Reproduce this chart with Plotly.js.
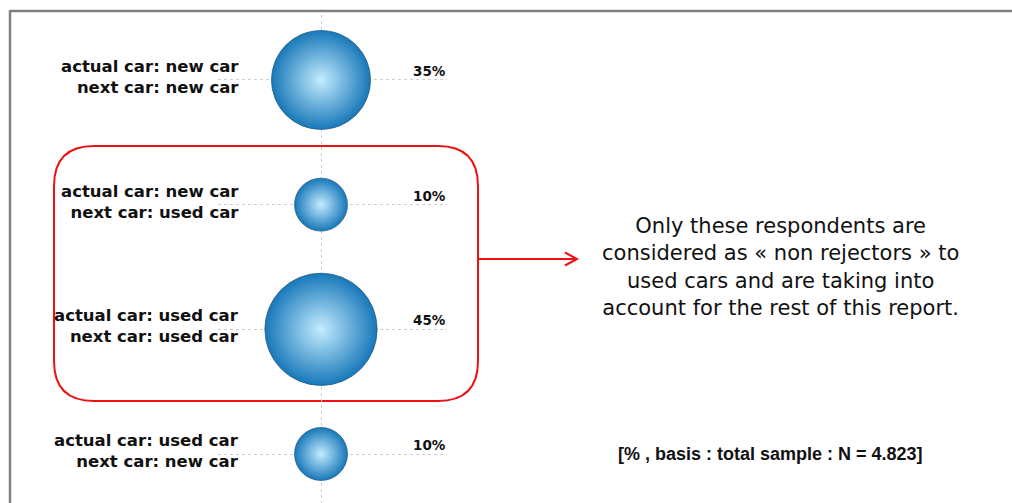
<!DOCTYPE html>
<html>
<head>
<meta charset="utf-8">
<script src="https://cdn.plot.ly/plotly-3.0.1.min.js"></script>
<style>html,body{margin:0;padding:0;background:#fff;}#chart{width:1012px;height:503px;}</style>
</head>
<body>
<div id="chart"></div>
<script>
// ---- data ----
var actualCar = ['new car', 'new car', 'used car', 'used car'];
var nextCar   = ['new car', 'used car', 'used car', 'new car'];
var shares    = [35, 10, 45, 10];           // % of total sample
var noteText  = ['Only these respondents are', 'considered as \u00ab non rejectors \u00bb to', 'used cars and are taking into', 'account for the rest of this report.'];
var basisText = '[% , basis : total sample : N = 4.823]';

// ---- layout helpers ----
var W = 1012, H = 503;
var mL = 218, mR = W - 447, mT = 15, mB = 0;
var pw = W - mL - mR, ph = H - mT - mB;
function px(x) { return (x - mL) / pw; }
function py(y) { return (H - mB - y) / ph; }

var cats = actualCar.map(function (a, i) { return 'actual car: ' + a + '<br>next car: ' + nextCar[i]; });
var pctLabels = shares.map(function (v) { return v + '%'; });

var trace = {
  type: 'scatter', mode: 'markers',
  x: shares.map(function () { return 0; }),
  y: cats,
  marker: {
    size: shares, sizemode: 'area', sizeref: 0.00714,
    color: '#1878b9',
    gradient: { type: 'radial', color: '#c4ecff' },
    line: { color: '#2a5f86', width: 0.8 },
    opacity: 1
  },
  cliponaxis: false,
  hoverinfo: 'skip'
};

var annotations = [];
cats.forEach(function (c, i) {
  annotations.push({
    x: -80, y: c, xref: 'x', yref: 'y', xanchor: 'right', yanchor: 'middle', align: 'right',
    text: '<b>actual car: ' + actualCar[i] + '<br>next car: ' + nextCar[i] + '</b>',
    showarrow: false, yshift: 3,
    font: { family: 'DejaVu Sans', size: 16.5, color: '#111' }
  });
  annotations.push({
    x: 125.5, y: c, xref: 'x', yref: 'y', xanchor: 'right', yanchor: 'middle',
    text: '<b>' + pctLabels[i] + '</b>', showarrow: false, yshift: 9, xshift: 1.5,
    font: { family: 'DejaVu Sans', size: 13.5, color: '#111' }
  });
});
annotations.push({
  x: px(780), y: py(267), xref: 'paper', yref: 'paper', xanchor: 'center', yanchor: 'middle', align: 'center',
  text: noteText.join('<br>'), showarrow: false,
  font: { family: 'DejaVu Sans', size: 21, color: '#111' }
});
annotations.push({
  x: px(770), y: py(454), xref: 'paper', yref: 'paper', xanchor: 'center', yanchor: 'middle',
  text: '<b>' + basisText + '</b>', showarrow: false,
  font: { family: 'Liberation Sans', size: 18, color: '#111' }
});

// red rounded rectangle
var rx0 = 54, rx1 = 478, ry0 = 146, ry1 = 401, r = 40;
var rectPath = 'M' + px(rx0 + r) + ',' + py(ry0) +
  ' L' + px(rx1 - r) + ',' + py(ry0) +
  ' Q' + px(rx1) + ',' + py(ry0) + ' ' + px(rx1) + ',' + py(ry0 + r) +
  ' L' + px(rx1) + ',' + py(ry1 - r) +
  ' Q' + px(rx1) + ',' + py(ry1) + ' ' + px(rx1 - r) + ',' + py(ry1) +
  ' L' + px(rx0 + r) + ',' + py(ry1) +
  ' Q' + px(rx0) + ',' + py(ry1) + ' ' + px(rx0) + ',' + py(ry1 - r) +
  ' L' + px(rx0) + ',' + py(ry0 + r) +
  ' Q' + px(rx0) + ',' + py(ry0) + ' ' + px(rx0 + r) + ',' + py(ry0) + ' Z';
var arrowPath = 'M' + px(478) + ',' + py(259) + ' L' + px(576) + ',' + py(259) +
  ' M' + px(565) + ',' + py(252.5) + ' L' + px(577) + ',' + py(259) + ' L' + px(565) + ',' + py(265.5);

var shapes = [
  { type: 'line', xref: 'paper', yref: 'paper', x0: px(10), x1: px(1012), y0: py(11), y1: py(11), line: { color: '#808080', width: 2.5 } },
  { type: 'line', xref: 'paper', yref: 'paper', x0: px(10), x1: px(10), y0: py(10), y1: py(503), line: { color: '#808080', width: 2.5 } },
  { type: 'path', xref: 'paper', yref: 'paper', path: rectPath, line: { color: '#ee1111', width: 2 }, layer: 'below' },
  { type: 'path', xref: 'paper', yref: 'paper', path: arrowPath, line: { color: '#ee1111', width: 2 } }
];

var layout = {
  width: W, height: H,
  margin: { l: mL, r: mR, t: mT, b: mB, pad: 0 },
  paper_bgcolor: '#fff', plot_bgcolor: 'rgba(0,0,0,0)',
  showlegend: false,
  xaxis: {
    range: [-103, 126], tickvals: [0], showticklabels: false, ticks: '',
    showgrid: true, gridcolor: '#cfcfcf', griddash: 'dot', gridwidth: 1,
    zeroline: false, showline: false, fixedrange: true
  },
  yaxis: {
    type: 'category', categoryorder: 'array', categoryarray: cats,
    range: [3.393, -0.521], showticklabels: false, ticks: '',
    showgrid: true, gridcolor: '#cfcfcf', griddash: 'dot', gridwidth: 1,
    zeroline: false, showline: false, fixedrange: true
  },
  annotations: annotations,
  shapes: shapes
};

Plotly.newPlot('chart', [trace], layout, { staticPlot: true, displayModeBar: false });
</script>
</body>
</html>
